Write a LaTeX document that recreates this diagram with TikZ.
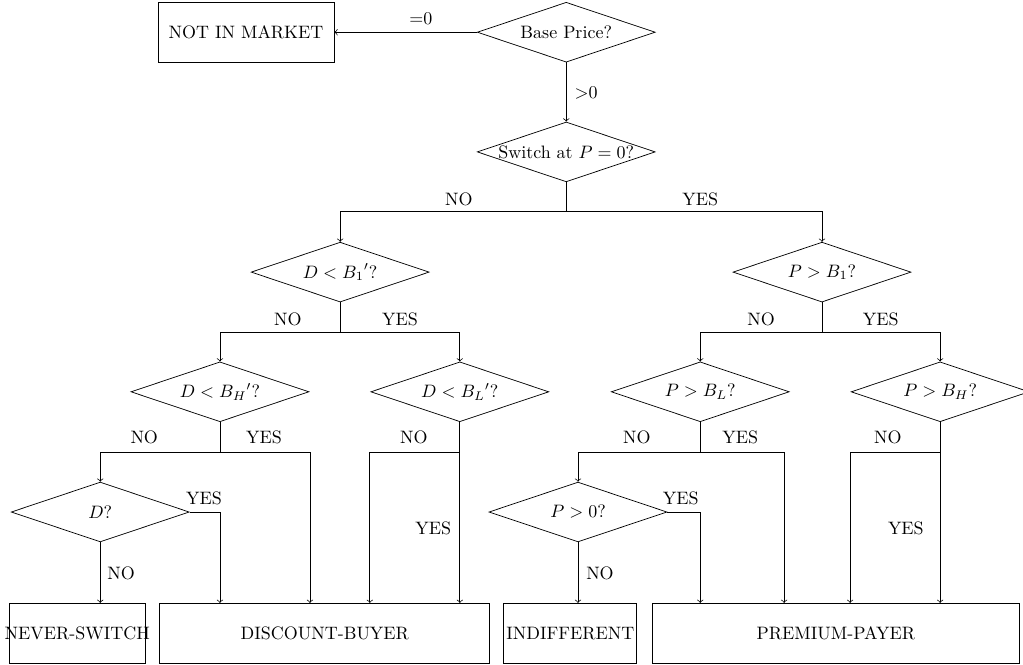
\documentclass[tikz,border=0pt]{standalone}
\usepackage{tikz}
\usepackage{amsmath}
\usetikzlibrary{shapes.geometric}

\begin{document}
\begin{tikzpicture}[
    decision/.style={draw, diamond, aspect=3, inner sep=0pt, minimum width=3.48cm, minimum height=1.17cm},
    block/.style={draw, rectangle, minimum height=1.17cm}
  ]
        \useasboundingbox (0,0) rectangle (20,-13);

        \node[block, minimum width=3.44cm] (notin) at (4.81,-0.63) {NOT IN MARKET};
        \node[decision] (base) at (11.07,-0.63) {Base Price?};
        \draw [->] (base) -- (notin);
        \node (eq0) at (8.23,-0.37) {=0};

        \node[decision] (switch) at (11.07,-2.97) {\makebox[0pt]{Switch at $P=0$?}};
        \draw [->] (base) -- (switch);
        \node (gt0) at (11.46,-1.82) {$>$0};

        \node[decision] (d1) at (6.65,-5.32) {$D<{B_1}'$?};
        \node[decision] (p1) at (16.07,-5.32) {$P>B_1$?};
        \coordinate (sw) at (11.07,-4.14);
        \draw (switch) -- (sw);
        \draw [->] (sw) -| (d1);
        \draw [->] (sw) -| (p1);
        \node (no0) at (8.97,-3.89) {NO};
        \node (yes0) at (13.69,-3.89) {YES};

        \node[decision] (dh) at (4.30,-7.66) {$D<{B_H}'$?};
        \node[decision] (dl) at (8.99,-7.66) {$D<{B_L}'$?};
        \coordinate (d1s) at (6.65,-6.49);
        \draw (d1) -- (d1s);
        \draw [->] (d1s) -| (dh);
        \draw [->] (d1s) -| (dl);
        \node (no1) at (5.63,-6.24) {NO};
        \node (yes1) at (7.82,-6.24) {YES};

        \node[decision] (pl) at (13.69,-7.66) {$P>B_L$?};
        \node[decision] (ph) at (18.38,-7.66) {$P>B_H$?};
        \coordinate (p1s) at (16.07,-6.49);
        \draw (p1) -- (p1s);
        \draw [->] (p1s) -| (pl);
        \draw [->] (p1s) -| (ph);
        \node (no2) at (14.88,-6.24) {NO};
        \node (yes2) at (17.22,-6.24) {YES};

        % leaves
        \node[block, inner sep=0pt] (never) at (1.51,-12.38) {\makebox[2.66cm]{NEVER-SWITCH}};
        \node[block, minimum width=6.45cm] (discount) at (6.35,-12.38) {DISCOUNT-BUYER};
        \node[block, inner sep=0pt, minimum width=2.60cm] (indiff) at (11.15,-12.38) {INDIFFERENT};
        \node[block, minimum width=7.19cm] (premium) at (16.34,-12.38) {PREMIUM-PAYER};

        \node[decision] (dq) at (1.96,-10.01) {$D$?};
        \node[decision] (pz) at (11.30,-10.01) {$P>0$?};

        \coordinate (dhs) at (4.30,-8.84);
        \coordinate (dhy) at (6.06,-8.84);
        \draw (dh) -- (dhs);
        \draw [->] (dhs) -| (dq);
        \draw [->] (dhs) -- (dhy) -- (dhy |- discount.north);
        \node (no3) at (2.82,-8.56) {NO};
        \node (yes3) at (5.16,-8.56) {YES};

        \draw [->] (dq) -- (dq |- never.north);
        \draw [->] (dq.east) -| (dhs |- discount.north);
        \node (no4) at (2.37,-11.20) {NO};
        \node (yes4) at (3.99,-9.74) {YES};

        \coordinate (dls) at (8.99,-8.84);
        \coordinate (dln) at (7.23,-8.84);
        \draw [->] (dl) -- (dl |- discount.north);
        \draw [->] (dls) -- (dln) -- (dln |- discount.north);
        \node (no5) at (8.09,-8.56) {NO};
        \node (yes5) at (8.47,-10.32) {YES};

        \coordinate (pls) at (13.69,-8.84);
        \coordinate (ply) at (15.33,-8.84);
        \draw (pl) -- (pls);
        \draw [->] (pls) -| (pz);
        \draw [->] (pls) -- (ply) -- (ply |- premium.north);
        \node (no6) at (12.45,-8.56) {NO};
        \node (yes6) at (14.47,-8.56) {YES};

        \draw [->] (pz) -- (pz |- indiff.north);
        \draw [->] (pz.east) -| (pls |- premium.north);
        \node (no7) at (11.73,-11.20) {NO};
        \node (yes7) at (13.31,-9.74) {YES};

        \coordinate (phs) at (18.38,-8.84);
        \coordinate (phn) at (16.62,-8.84);
        \draw [->] (ph) -- (ph |- premium.north);
        \draw [->] (phs) -- (phn) -- (phn |- premium.north);
        \node (no8) at (17.36,-8.56) {NO};
        \node (yes8) at (17.71,-10.32) {YES};
    \end{tikzpicture}
\end{document}
